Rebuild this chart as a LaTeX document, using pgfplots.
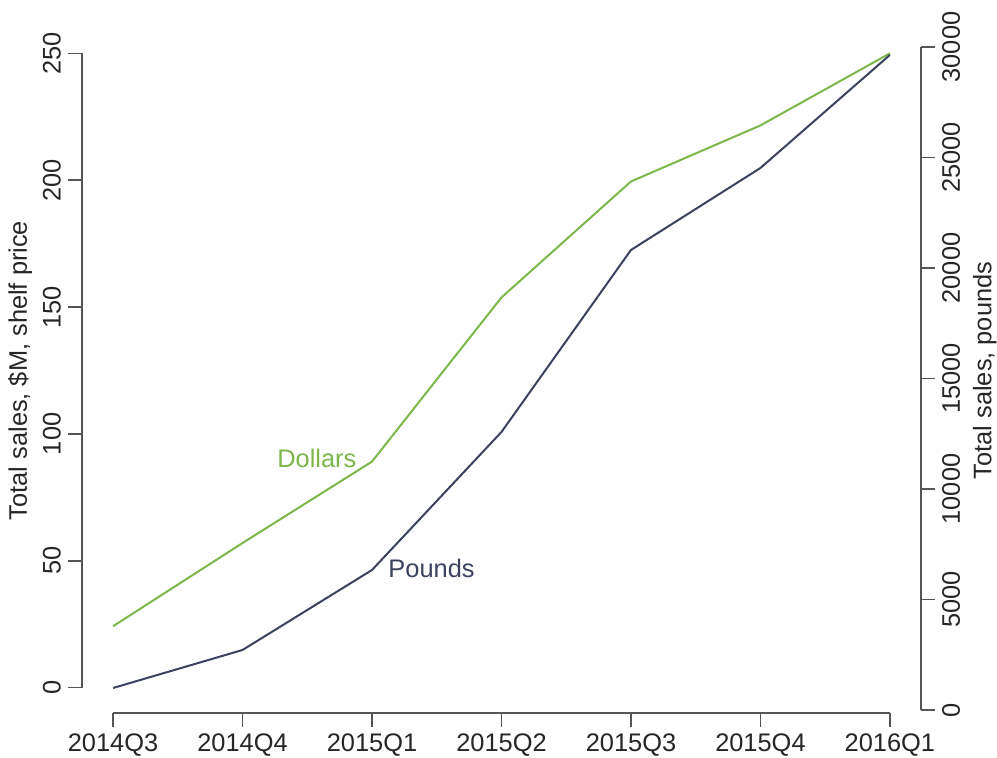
\documentclass[border=0pt]{standalone}
\usepackage{fontspec}
\setmainfont{Liberation Sans}
\usepackage{pgfplots}
\pgfplotsset{compat=1.18}
\definecolor{dgreen}{RGB}{125,182,75}
\definecolor{navy}{RGB}{58,66,96}
\definecolor{axgray}{RGB}{85,85,85}
\newcommand\f{\fontsize{12.7pt}{15pt}\selectfont}
\begin{document}
\begin{tikzpicture}
\useasboundingbox (-41pt,-22.5pt) rectangle (457.5pt,356.5pt);
\pgfplotsset{base/.style={scale only axis, width=419.5pt, height=342.5pt,
  xmin=0.76, xmax=7.24, tick align=outside, major tick length=7pt,
  tick style={axgray, line width=0.8pt}, axis line style={draw=none},
  scaled ticks=false,
  /pgf/number format/assume math mode=true, /pgf/number format/1000 sep={},
  ticklabel style={font=\f, text=black!85}, label style={font=\f, text=black!85},
  clip=false}}
\begin{axis}[base, axis x line*=bottom, axis y line*=left,
  ymin=-10, ymax=260, ytick={0,50,...,250},
  xtick={1,...,7}, xticklabels={2014Q3,2014Q4,2015Q1,2015Q2,2015Q3,2015Q4,2016Q1},
  yticklabel style={rotate=90, anchor=south},
  ylabel={Total sales, \$M, shelf price},
  ylabel style={at={(axis description cs:-0.0739,0.5)}, anchor=center}]
\draw[axgray, line width=0.8pt] (axis cs:1,-10) -- (axis cs:7,-10);
\draw[axgray, line width=0.8pt] (axis cs:0.76,0) -- (axis cs:0.76,250);
\addplot[dgreen, line width=1pt] coordinates {(1,24.2) (2,57) (3,89.1) (4,153.8) (5,199.5) (6,221.6) (7,250)};
\node[anchor=west, inner sep=0pt, text=dgreen, font=\f] at (axis cs:2.266,90.2) {Dollars};
\node[anchor=west, inner sep=0pt, text=navy, font=\f] at (axis cs:3.124,46.9) {Pounds};
\end{axis}
\begin{axis}[base, axis x line=none, axis y line*=right,
  ymin=-136, ymax=30860, ytick={0,5000,...,30000},
  yticklabel style={rotate=90, anchor=north},
  ylabel={Total sales, pounds},
  ylabel style={at={(axis description cs:1.076,0.5)}, anchor=center}]
\draw[axgray, line width=0.8pt] (axis cs:7.24,0) -- (axis cs:7.24,30000);
\addplot[navy, line width=1pt] coordinates {(1,995) (2,2715) (3,6335) (4,12580) (5,20815) (6,24525) (7,29640)};
\end{axis}
\end{tikzpicture}
\end{document}
